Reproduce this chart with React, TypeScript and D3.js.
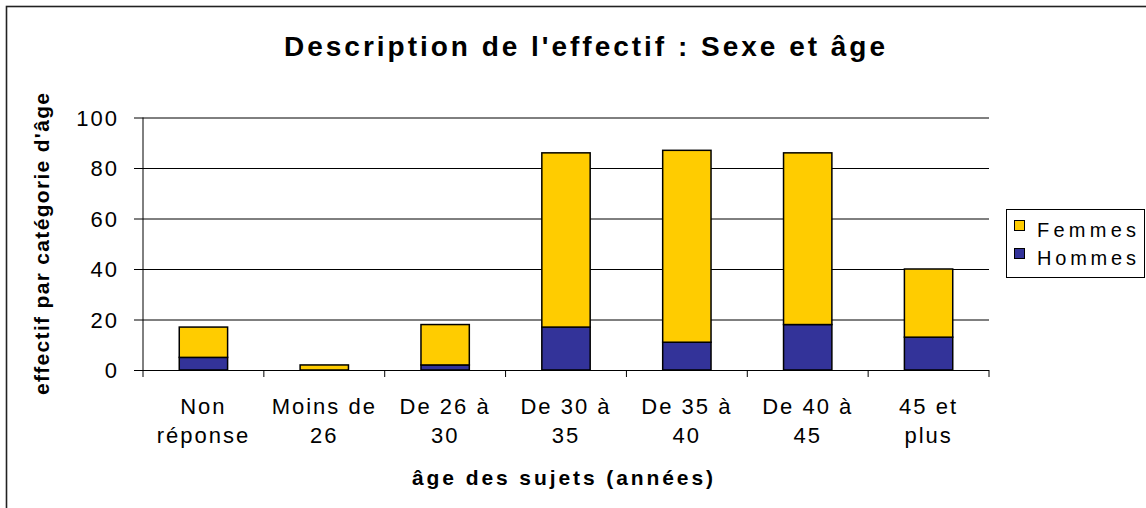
import { useRef, useEffect } from 'react'
import * as d3 from 'd3'

const categories = [
  ['Non', 'réponse'],
  ['Moins de', '26'],
  ['De 26 à', '30'],
  ['De 30 à', '35'],
  ['De 35 à', '40'],
  ['De 40 à', '45'],
  ['45 et', 'plus'],
]
const hommes = [5, 0, 2, 17, 11, 18, 13]
const femmes = [12, 2, 16, 69, 76, 68, 27]
const yTicks = [0, 20, 40, 60, 80, 100]
const seriesNames = ['Hommes', 'Femmes']
const seriesColors = ['#333399', '#FFCC00']

const FONT = 'Arial, "Liberation Sans", sans-serif'

export default function App() {
  const ref = useRef<SVGSVGElement>(null)

  const width = 1146
  const height = 508
  const margin = { top: 117.5, right: 157, bottom: 138, left: 143 }

  useEffect(() => {
    const svg = d3.select(ref.current)
    svg.selectAll('*').remove()

    const innerW = width - margin.left - margin.right
    const innerH = height - margin.top - margin.bottom

    // outer chart border
    svg
      .append('rect')
      .attr('x', 6.5)
      .attr('y', 6.5)
      .attr('width', 1170)
      .attr('height', 530)
      .style('fill', '#fff')
      .style('stroke', '#222')
      .style('stroke-width', 1.6)

    const x = d3
      .scaleBand()
      .domain(d3.range(categories.length).map(String))
      .range([0, innerW])
      .paddingInner(0)
    const y = d3.scaleLinear().domain([0, 100]).range([innerH, 0])

    const g = svg.append('g').attr('transform', `translate(${margin.left},${margin.top})`)

    // gridlines + y axis
    g.append('g')
      .call(
        d3
          .axisLeft(y)
          .tickValues(yTicks)
          .tickSize(-innerW)
          .tickPadding(24)
          .tickFormat(d3.format('d'))
      )
      .call((s) => s.select('.domain').remove())
      .call((s) => s.selectAll('.tick line').attr('stroke', '#000').attr('x1', -9))
      .call((s) =>
        s
          .selectAll('.tick text')
          .attr('font-size', 22)
          .attr('font-family', FONT)
          .attr('letter-spacing', 2)
          .attr('fill', '#000')
          .attr('dy', '0.36em')
      )

    // y axis line
    g.append('line')
      .attr('x1', 0)
      .attr('x2', 0)
      .attr('y1', 0)
      .attr('y2', innerH)
      .attr('stroke', '#000')

    // x axis ticks at category boundaries
    const bounds = d3.range(categories.length + 1).map((i) => i * x.step())
    g.append('g')
      .selectAll('line')
      .data(bounds)
      .join('line')
      .attr('x1', (d) => d)
      .attr('x2', (d) => d)
      .attr('y1', innerH)
      .attr('y2', innerH + 7)
      .attr('stroke', '#000')

    // stacked bars
    const rows = categories.map((_, i) => ({ key: String(i), Hommes: hommes[i], Femmes: femmes[i] }))
    const stack = d3.stack<any>().keys(seriesNames)(rows)
    const barW = x.bandwidth() * 0.4
    stack.forEach((layer, li) => {
      g.append('g')
        .selectAll('rect')
        .data(layer.filter((d) => d[1] - d[0] > 0))
        .join('rect')
        .attr('x', (d) => x(d.data.key)! + (x.bandwidth() - barW) / 2)
        .attr('y', (d) => y(d[1]))
        .attr('width', barW)
        .attr('height', (d) => y(d[0]) - y(d[1]))
        .style('fill', seriesColors[li])
        .style('stroke', '#000')
        .style('stroke-width', 1.5)
    })

    // category labels
    const labels = g
      .append('g')
      .selectAll('text')
      .data(categories)
      .join('text')
      .attr('x', (_, i) => x(String(i))! + x.bandwidth() / 2)
      .attr('y', innerH + 44)
      .attr('text-anchor', 'middle')
      .attr('font-size', 22)
      .attr('font-family', FONT)
      .attr('letter-spacing', 2)
    labels
      .selectAll('tspan')
      .data((d) => d)
      .join('tspan')
      .attr('x', function () {
        return (this as any).parentNode.getAttribute('x')
      })
      .attr('dy', (_, i) => (i === 0 ? 0 : 29))
      .text((d) => d)

    // title
    svg
      .append('text')
      .attr('x', 284)
      .attr('y', 56)
      .attr('font-size', 28)
      .attr('font-weight', 'bold')
      .attr('font-family', FONT)
      .attr('textLength', 601)
      .attr('lengthAdjust', 'spacing')
      .text("Description de l'effectif : Sexe et âge")

    // x axis title
    svg
      .append('text')
      .attr('x', 412)
      .attr('y', 485)
      .attr('font-size', 21)
      .attr('font-weight', 'bold')
      .attr('font-family', FONT)
      .attr('textLength', 301)
      .attr('lengthAdjust', 'spacing')
      .text('âge des sujets (années)')

    // y axis title
    svg
      .append('text')
      .attr('transform', 'translate(49,395) rotate(-90)')
      .attr('font-size', 21)
      .attr('font-weight', 'bold')
      .attr('font-family', FONT)
      .attr('textLength', 302)
      .attr('lengthAdjust', 'spacing')
      .text("effectif par catégorie d'âge")

    // legend
    const legend = svg.append('g')
    legend
      .append('rect')
      .attr('x', 1006.5)
      .attr('y', 209.5)
      .attr('width', 138)
      .attr('height', 68)
      .style('fill', '#fff')
      .style('stroke', '#000')
    const legendItems = [
      { name: 'Femmes', color: seriesColors[1] },
      { name: 'Hommes', color: seriesColors[0] },
    ]
    const item = legend
      .selectAll('g.item')
      .data(legendItems)
      .join('g')
      .attr('class', 'item')
      .attr('transform', (_, i) => `translate(0,${i * 28})`)
    item
      .append('rect')
      .attr('x', 1014.5)
      .attr('y', 220.5)
      .attr('width', 10)
      .attr('height', 10)
      .style('fill', (d) => d.color)
      .style('stroke', '#000')
    item
      .append('text')
      .attr('x', 1037)
      .attr('y', 237)
      .attr('font-size', 20)
      .attr('font-family', FONT)
      .attr('textLength', 99)
      .attr('lengthAdjust', 'spacing')
      .text((d) => d.name)
  }, [])

  return (
    <svg
      ref={ref}
      width={width}
      height={height}
      style={{ position: 'absolute', left: 0, top: 0, display: 'block', background: '#fff' }}
    ></svg>
  )
}
